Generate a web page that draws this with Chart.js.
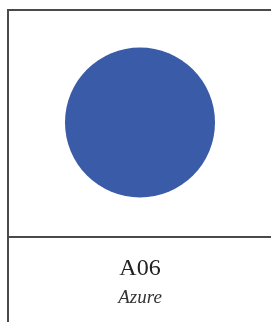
<!DOCTYPE html>
<html>
<head>
<meta charset="utf-8">
<script src="https://cdn.jsdelivr.net/npm/chart.js@4/dist/chart.umd.min.js"></script>
<style>
  html, body { margin: 0; padding: 0; background: #fff; }
  #wrap { width: 271px; height: 322px; position: relative; }
</style>
</head>
<body>
<div id="wrap"><canvas id="swatch"></canvas></div>
<script>
// swatch data
const codes = ['A06'];
const names = ['Azure'];
const xValues = [0.5];
const yValues = [0.5];

const SWATCH_COLOR = '#3a5ba8';
const LINE_COLOR = '#4a4a4a';

// frame: left + top edge and the divider under the swatch
const framePlugin = {
    id: 'frame',
    afterDraw(chart) {
        const { ctx, chartArea, width, height } = chart;
        ctx.save();
        ctx.strokeStyle = LINE_COLOR;
        ctx.lineWidth = 2;
        ctx.beginPath();
        ctx.moveTo(chartArea.left - 1, height);
        ctx.lineTo(chartArea.left - 1, chartArea.top);
        ctx.lineTo(width, chartArea.top);
        ctx.moveTo(chartArea.left - 2, chartArea.bottom + 2);
        ctx.lineTo(width, chartArea.bottom + 2);
        ctx.stroke();
        ctx.restore();
    }
};

new Chart(document.getElementById('swatch'), {
    type: 'scatter',
    data: {
        datasets: [{
            label: names[0],
            data: xValues.map((x, i) => ({ x: x, y: yValues[i] })),
            backgroundColor: SWATCH_COLOR,
            borderWidth: 0,
            pointRadius: 75,
            pointHoverRadius: 75,
            clip: false
        }]
    },
    options: {
        responsive: true,
        maintainAspectRatio: false,
        animation: false,
        events: [],
        layout: { autoPadding: false, padding: { left: 9, top: 10, right: 0, bottom: 0 } },
        scales: {
            x: { display: false, min: 0, max: 1 },
            y: { display: false, min: 0, max: 1 }
        },
        plugins: {
            legend: { display: false },
            tooltip: { enabled: false },
            title: {
                display: true,
                text: codes[0],
                position: 'bottom',
                weight: 1000,
                color: '#222',
                font: { family: '"Liberation Serif", serif', size: 24, weight: 'normal', lineHeight: 1.2 },
                padding: { top: 19.1, bottom: 0 }
            },
            subtitle: {
                display: true,
                text: names[0],
                position: 'bottom',
                weight: 1100,
                color: '#333',
                font: { family: '"Liberation Serif", serif', size: 19, style: 'italic', lineHeight: 1.2 },
                padding: { top: 3.2, bottom: 13.1 }
            }
        }
    },
    plugins: [framePlugin]
});
</script>
</body>
</html>
